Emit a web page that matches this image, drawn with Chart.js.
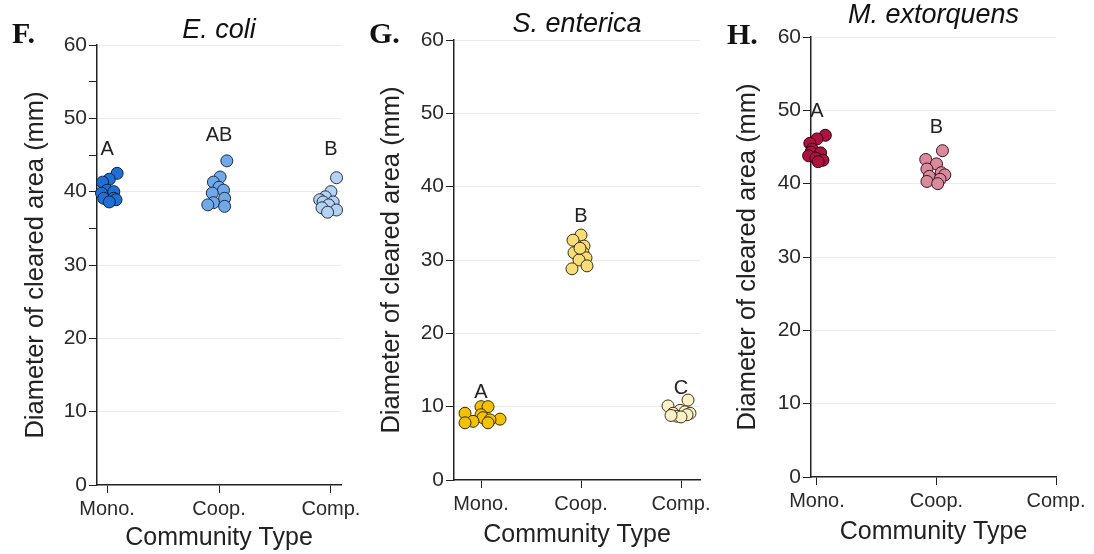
<!DOCTYPE html>
<html><head><meta charset="utf-8">
<script src="https://cdn.jsdelivr.net/npm/chart.js@4.4.1/dist/chart.umd.min.js"></script>
<style>
body{margin:0;background:#fff;width:1094px;height:554px;overflow:hidden;position:relative;}
.p{position:absolute;top:0;height:554px}
.lbl{position:absolute;font-family:"Liberation Serif","Times New Roman",serif;font-weight:bold;font-size:30px;line-height:1;color:#111}
</style></head><body>
<div class="p" style="left:0;width:360px"><canvas id="cF" width="360" height="554"></canvas></div>
<div class="p" style="left:360px;width:360px"><canvas id="cG" width="360" height="554"></canvas></div>
<div class="p" style="left:720px;width:374px"><canvas id="cH" width="374" height="554"></canvas></div>
<div class="lbl" style="left:12px;top:18px">F.</div>
<div class="lbl" style="left:369px;top:18px">G.</div>
<div class="lbl" style="left:727px;top:19px">H.</div>
<script>
// ---- data ----
const categories = ['Mono.', 'Coop.', 'Comp.'];
const majorTicks = [0, 10, 20, 30, 40, 50, 60];
const minorTicksF = [35, 45, 55];

// E. coli
const ecoliMono = [42.5, 41.7, 41.3, 40.2, 40.0, 39.8, 39.1, 39.1, 38.9, 38.6];
const ecoliMonoJitter = [0.09, 0.02, -0.04, 0.0, 0.06, -0.05, -0.03, 0.06, 0.08, 0.02];
const ecoliCoop = [44.2, 42.0, 41.3, 40.6, 40.2, 39.8, 39.1, 38.5, 38.2, 38.0];
const ecoliCoopJitter = [0.07, 0.01, -0.05, 0.0, 0.04, -0.06, 0.05, -0.05, -0.1, 0.05];
const ecoliComp = [41.9, 40.0, 39.3, 38.9, 38.6, 38.6, 38.2, 37.8, 37.5, 37.2];
const ecoliCompJitter = [0.05, 0.0, -0.05, -0.1, 0.02, -0.07, -0.02, -0.08, 0.05, -0.03];
const ecoliLetters = ['A', 'AB', 'B'];
const ecoliLetterY = [45.7, 47.6, 45.8];

// S. enterica
const sentMono = [10.0, 10.0, 9.1, 8.9, 8.5, 8.3, 8.2, 8.0, 7.8, 7.8];
const sentMonoJitter = [0.0, 0.07, -0.16, 0.0, 0.02, 0.19, 0.09, -0.08, -0.16, 0.07];
const sentCoop = [33.4, 32.7, 31.9, 31.0, 31.0, 30.3, 30.0, 29.2, 28.8, 31.6];
const sentCoopJitter = [0.0, -0.08, 0.03, -0.07, 0.02, 0.05, -0.02, 0.06, -0.09, -0.01];
const sentComp = [10.9, 10.1, 9.5, 9.3, 9.1, 9.1, 8.9, 8.7, 8.6, 8.8];
const sentCompJitter = [0.07, -0.13, -0.01, 0.04, -0.08, 0.09, 0.06, -0.04, 0.0, -0.1];
const sentLetters = ['A', 'B', 'C'];
const sentLetterY = [11.9, 35.9, 12.5];

// M. extorquens
const mextMono = [46.6, 46.1, 45.5, 44.7, 44.3, 44.2, 43.8, 43.5, 43.2, 43.0];
const mextMonoJitter = [0.07, 0.0, -0.06, -0.04, -0.05, 0.03, -0.07, -0.01, 0.05, 0.01];
const mextCoop = [44.5, 43.3, 42.7, 42.0, 41.5, 41.2, 41.0, 40.6, 40.3, 40.0];
const mextCoopJitter = [0.05, -0.09, 0.0, -0.08, 0.04, 0.07, -0.06, 0.03, -0.08, 0.01];
const mextLetters = ['A', 'B'];
const mextLetterY = [49.8, 47.6];

// ---- chart setup ----
Chart.defaults.font.family = '"Liberation Sans", Arial, sans-serif';
Chart.defaults.color = '#222';

function pts(vals, jit, idx) { return vals.map((v, i) => ({ x: idx + jit[i], y: v })); }

const letterPlugin = {
  id: 'letters',
  afterDatasetsDraw(chart, args, opts) {
    const ctx = chart.ctx, xs = chart.scales.x, ys = chart.scales.y;
    ctx.save();
    ctx.font = '20px "Liberation Sans", Arial, sans-serif';
    ctx.fillStyle = '#222';
    ctx.textAlign = 'center';
    ctx.textBaseline = 'middle';
    opts.letters.forEach((t, i) => {
      ctx.fillText(t, xs.getPixelForValue(i), ys.getPixelForValue(opts.ys[i]));
    });
    ctx.restore();
  }
};

function makePanel(id, cfg) {
  const datasets = cfg.series.map(s => ({
    data: s.data, backgroundColor: s.color, borderColor: s.border, borderWidth: 1,
    pointRadius: 6, pointHoverRadius: 6, clip: false, showLine: false
  }));
  const yTicks = majorTicks.concat(cfg.minor || []).sort((a, b) => a - b);
  new Chart(document.getElementById(id), {
    type: 'scatter',
    data: { datasets },
    options: {
      responsive: false, animation: false,
      layout: { padding: { left: 0, right: cfg.padRight, top: cfg.padTop, bottom: 0 } },
      plugins: {
        legend: { display: false }, tooltip: { enabled: false },
        title: { display: true, text: cfg.title, fullSize: false, color: '#111',
          font: { size: 27, style: 'italic', weight: 'normal', lineHeight: 1 },
          padding: { top: 0, bottom: cfg.titlePadBottom } },
        letters: { letters: cfg.letters, ys: cfg.letterY }
      },
      scales: {
        x: {
          type: 'linear', min: cfg.xmin, max: cfg.xmax,
          afterBuildTicks: s => { s.ticks = categories.map((c, i) => ({ value: i })); },
          afterFit: s => { s.height = cfg.xHeight; s.paddingLeft = 0; s.paddingRight = 0; },
          ticks: { autoSkip: false, maxRotation: 0, padding: 4, font: { size: 20 }, color: '#2a2a2a',
            callback: v => categories[v] !== undefined ? categories[v] : '' },
          grid: { drawOnChartArea: false, tickColor: '#222', tickLength: 8 },
          border: { color: '#222', width: 1.5 },
          title: { display: true, text: 'Community Type', color: '#222', font: { size: 25 },
            padding: { top: 0, bottom: cfg.xTitlePad } }
        },
        y: {
          type: 'linear', min: 0, max: 60,
          afterBuildTicks: s => { s.ticks = yTicks.map(v => ({ value: v })); },
          afterFit: s => { s.width = cfg.yWidth; s.paddingTop = 0; s.paddingBottom = 0; },
          ticks: { autoSkip: false, padding: 2, font: { size: 21 }, color: '#2a2a2a',
            callback: v => majorTicks.includes(v) ? String(v) : '' },
          grid: { color: c => (c.tick && c.tick.value % 10 === 0 && c.tick.value > 0) ? '#ebebeb' : 'rgba(0,0,0,0)',
            tickColor: '#222', tickLength: 8 },
          border: { color: '#222', width: 1.5 },
          title: { display: true, text: 'Diameter of cleared area (mm)', color: '#222', font: { size: 25.5 },
            padding: { top: cfg.yTitlePad, bottom: 0 } }
        }
      }
    },
    plugins: [letterPlugin]
  });
}

makePanel('cF', {
  title: 'E. coli', padTop: 17, titlePadBottom: 1, padRight: 19, yWidth: 97, xHeight: 69,
  xTitlePad: 1, yTitlePad: 20.7, xmin: -0.09, xmax: 2.09, minor: minorTicksF,
  letters: ecoliLetters, letterY: ecoliLetterY,
  series: [
    { data: pts(ecoliMono, ecoliMonoJitter, 0), color: '#1f6fd6', border: '#0d2340' },
    { data: pts(ecoliCoop, ecoliCoopJitter, 1), color: '#70a8e8', border: '#1a2e48' },
    { data: pts(ecoliComp, ecoliCompJitter, 2), color: '#b6d2f3', border: '#223247' }
  ]
});
makePanel('cG', {
  title: 'S. enterica', padTop: 10.5, titlePadBottom: 2.5, padRight: 20, yWidth: 94, xHeight: 74,
  xTitlePad: 4, yTitlePad: 16.7, xmin: -0.27, xmax: 2.19,
  letters: sentLetters, letterY: sentLetterY,
  series: [
    { data: pts(sentMono, sentMonoJitter, 0), color: '#f2c200', border: '#3a2c00' },
    { data: pts(sentCoop, sentCoopJitter, 1), color: '#f8dc78', border: '#3a3010' },
    { data: pts(sentComp, sentCompJitter, 2), color: '#fcf0c6', border: '#3a3422' }
  ]
});
makePanel('cH', {
  title: 'M. extorquens', padTop: 1.5, titlePadBottom: 8.5, padRight: 38, yWidth: 91, xHeight: 77,
  xTitlePad: 7, yTitlePad: 12.7, xmin: -0.05, xmax: 2.0,
  letters: mextLetters, letterY: mextLetterY,
  series: [
    { data: pts(mextMono, mextMonoJitter, 0), color: '#ad123e', border: '#2e0010' },
    { data: pts(mextCoop, mextCoopJitter, 1), color: '#d98a9d', border: '#3a1420' }
  ]
});
</script>
</body></html>
